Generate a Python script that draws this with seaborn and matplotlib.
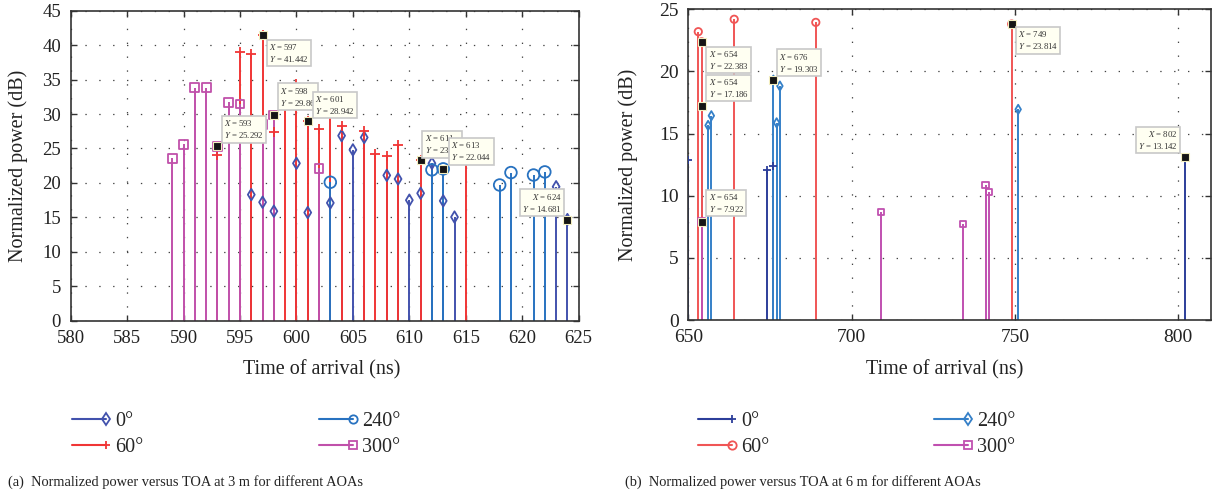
import matplotlib
matplotlib.use("Agg")
import numpy as np
import pandas as pd
import matplotlib.pyplot as plt
import seaborn as sns
from matplotlib.lines import Line2D
from matplotlib.legend_handler import HandlerLine2D

# ---- data: (a) 3 m ----
t0_3 = [596, 597, 598, 600, 601, 603, 604, 605, 606, 608, 609, 610, 611, 612, 613, 614, 623, 624]
p0_3 = [18.3, 17.2, 15.9, 22.85, 15.7, 17.1, 26.86, 24.8, 26.6, 21.1, 20.57, 17.5, 18.5, 22.85, 17.4, 15.05, 19.45, 14.681]
t60_3 = [593, 595, 596, 597, 598, 599, 600, 601, 602, 603, 604, 606, 607, 608, 609, 611, 615]
p60_3 = [24.1, 39.05, 38.67, 41.442, 27.4, 32.0, 34.3, 28.942, 27.8, 31.0, 28.2, 27.6, 24.15, 23.9, 25.55, 23.28, 24.0]
t240_3 = [603, 612, 613, 618, 619, 621, 622]
p240_3 = [20.1, 21.9, 22.044, 19.7, 21.5, 21.15, 21.6]
t300_3 = [589, 590, 591, 592, 593, 594, 595, 597, 598, 602]
p300_3 = [23.57, 25.6, 33.8, 33.8, 25.292, 31.7, 31.45, 28.5, 29.86, 22.1]

# ---- data: (b) 6 m ----
t0_6 = [650, 654, 674, 676, 802]
p0_6 = [12.9, 17.186, 12.1, 12.4, 13.142]
t60_6 = [653, 654, 664, 689, 749]
p60_6 = [23.2, 22.383, 24.2, 23.95, 23.814]
t240_6 = [656, 657, 676, 677, 678, 751]
p240_6 = [15.66, 16.44, 19.303, 15.87, 18.83, 16.95]
t300_6 = [654, 709, 734, 741, 742]
p300_6 = [7.922, 8.69, 7.7, 10.89, 10.32]

aoa_labels = ["0°", "60°", "240°", "300°"]
xticks3 = list(range(580, 630, 5))
yticks3 = list(range(0, 50, 5))
xticks6 = [650, 700, 750, 800]
yticks6 = list(range(0, 30, 5))

# data tips: (series x, series y, x picked)
tips3 = [(t60_3, p60_3, 597), (t300_3, p300_3, 593), (t300_3, p300_3, 598),
         (t60_3, p60_3, 601), (t60_3, p60_3, 611), (t240_3, p240_3, 613), (t0_3, p0_3, 624)]
tips6 = [(t60_6, p60_6, 654), (t0_6, p0_6, 654), (t300_6, p300_6, 654),
         (t240_6, p240_6, 676), (t60_6, p60_6, 749), (t0_6, p0_6, 802)]
# box offsets in pixels (dx, dy, ha, va)
tip_pos3 = [(6.5, -6.5, "left", "top"), (6.5, 6, "left", "bottom"), (6, 7.5, "left", "bottom"),
            (7, 5.5, "left", "bottom"), (4, 5, "left", "bottom"), (8, 6.5, "left", "bottom"),
            (-5.3, 6, "right", "bottom")]
tip_pos6 = [(7, -7.3, "left", "top"), (7, 7.3, "left", "bottom"), (7, 7.4, "left", "bottom"),
            (6, 6.6, "left", "bottom"), (6.3, -5.3, "left", "top"), (-6.9, 6, "right", "bottom")]

sns.set_theme(style="ticks")
plt.rcParams["font.family"] = ["Liberation Serif", "DejaVu Serif"]
plt.rcParams["mathtext.fontset"] = "stix"

cols3 = ["#4252ad", "#f03535", "#2872c0", "#c050aa"]
cols6 = ["#2c3e9a", "#f05555", "#3580c8", "#c050b0"]
mk3 = [("d", 34), ("+", 55), ("o", 70), ("s", 40)]
mk6 = [("+", 35), ("o", 28), ("d", 22), ("s", 20)]


class EndMarker(HandlerLine2D):
    def create_artists(self, *args, **kw):
        arts = super().create_artists(*args, **kw)
        arts[0].set_markevery([2])
        return arts


def stems(ax, t, p, color, marker, size):
    ax.vlines(t, 0, p, colors=color, lw=1.4, zorder=2)
    kw = dict(marker=marker, s=size, color=color, linewidth=1.3, zorder=3, legend=False)
    if marker != "+":
        kw.update(facecolor="none", edgecolor=color)
    sns.scatterplot(x=t, y=p, ax=ax, **kw)


def tip(ax, xs, ys, x, pos):
    y = ys[xs.index(x)]
    dx, dy, ha, va = pos
    ax.plot([x], [y], "s", ms=5.5, color="#151515", mec="#f4efc0", mew=0.8, zorder=6)
    ax.annotate(f"$X$ = {x}\n$Y$ = {y:g}", xy=(x, y), xytext=(dx, dy),
                textcoords="offset pixels", ha=ha, va=va, fontsize=6.3, color="#333",
                linespacing=1.25, zorder=7,
                bbox=dict(boxstyle="square,pad=0.25", fc="#fffff2", ec="#c8c8c8", lw=1.2))


def style(ax, xt, yt, xlim, ylim, fs):
    ax.set_xlim(*xlim)
    ax.set_ylim(*ylim)
    ax.set_xticks(xt)
    ax.set_yticks(yt)
    ax.grid(True, linestyle=(0, (1.1, 10)), color="#444", linewidth=0.9)
    ax.set_axisbelow(True)
    ax.tick_params(direction="in", length=4, width=1, top=True, right=True,
                   labelsize=fs, colors="#333", labelcolor="#222")
    ax.tick_params(axis="x", pad=6.5)
    ax.tick_params(axis="y", pad=7)
    for s in ax.spines.values():
        s.set_color("#333")
        s.set_linewidth(1.2)
    ax.set_xlabel("Time of arrival (ns)", fontsize=14.5, color="#222")
    ax.set_ylabel("Normalized power (dB)", fontsize=14.5, color="#222")


fig = plt.figure(figsize=(12.16, 4.96), dpi=100)
ax1 = fig.add_axes([0.0581, 0.3534, 0.4178, 0.625])
ax2 = fig.add_axes([0.5662, 0.3548, 0.4295, 0.6264])

series3 = [(t0_3, p0_3), (t60_3, p60_3), (t240_3, p240_3), (t300_3, p300_3)]
series6 = [(t0_6, p0_6), (t60_6, p60_6), (t240_6, p240_6), (t300_6, p300_6)]

for (t, p), c, (m, s) in zip(series3, cols3, mk3):
    stems(ax1, t, p, c, m, s)
for (t, p), c, (m, s) in zip(series6, cols6, mk6):
    stems(ax2, t, p, c, m, s)

style(ax1, xticks3, yticks3, (580, 625), (0, 45), 13.5)
style(ax2, xticks6, yticks6, (650, 810), (0, 25), 14)
ax1.xaxis.set_label_coords(0.495, -0.127)
ax1.yaxis.set_label_coords(-0.084, 0.5)
ax2.xaxis.set_label_coords(0.49, -0.129)
ax2.yaxis.set_label_coords(-0.097, 0.5)

for (xs, ys, x), pos in zip(tips3, tip_pos3):
    tip(ax1, xs, ys, x, pos)
for (xs, ys, x), pos in zip(tips6, tip_pos6):
    tip(ax2, xs, ys, x, pos)


# legends below each panel
def make_handles(cols, mks):
    hs = []
    for c, (m, s) in zip(cols, mks):
        hs.append(Line2D([], [], color=c, lw=1.5, marker=m, ms=6,
                         mfc="none", mec=c, mew=1.3))
    return hs


for cols, mks, x0, cs in [(cols3, mk3, 72, 8.7), (cols6, mk6, 698, 8.15)]:
    fig.legend(handles=make_handles(cols, mks), labels=aoa_labels, loc="upper left",
               bbox_to_anchor=(x0 / 1216, 1 - 412 / 496), ncol=2, frameon=False,
               fontsize=14.5, handlelength=1.7, handletextpad=0.45, columnspacing=cs,
               labelspacing=0.35, borderpad=0, borderaxespad=0, numpoints=1,
               handler_map={Line2D: EndMarker()})

fig.text(8 / 1216, 1 - 482 / 496, "(a)  Normalized power versus TOA at 3 m for different AOAs",
         fontsize=10.4, va="center", color="#222")
fig.text(625 / 1216, 1 - 482 / 496, "(b)  Normalized power versus TOA at 6 m for different AOAs",
         fontsize=10.4, va="center", color="#222")

fig.savefig("out.png", dpi=100)
